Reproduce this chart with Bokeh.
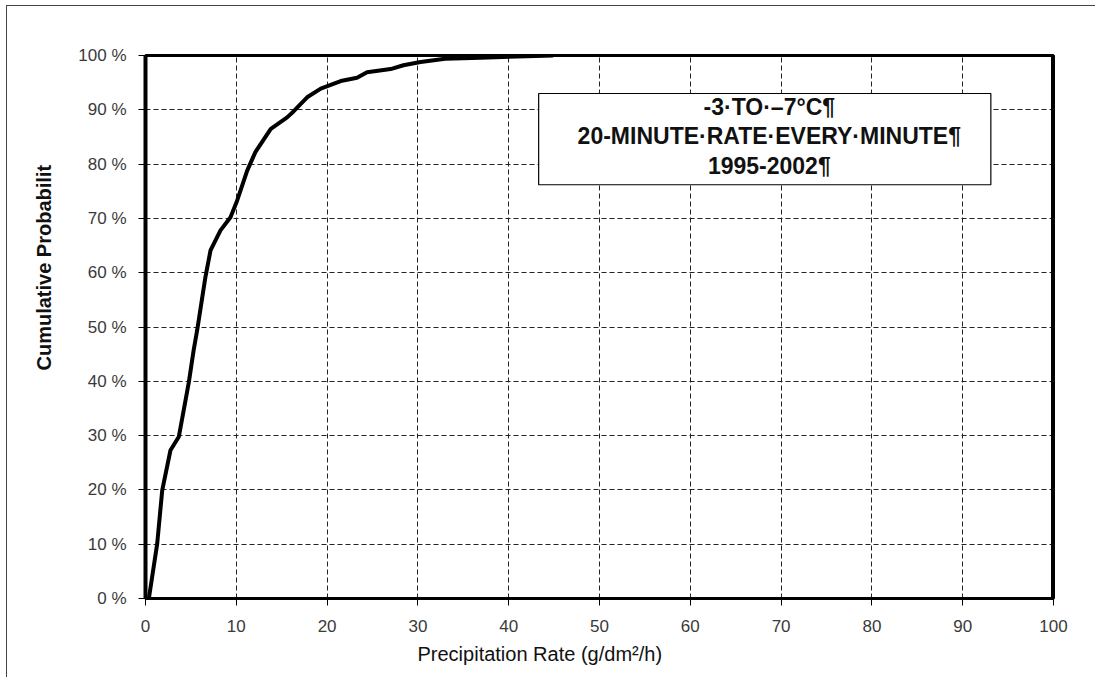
from bokeh.plotting import figure
from bokeh.models import FixedTicker, Span, ColumnDataSource, Title
from bokeh.core.properties import value
from bokeh.embed import file_html
from bokeh.resources import INLINE

# ---- data ----
rate = [0.37, 1.29, 1.84, 2.75, 3.67, 4.2, 4.77, 5.3, 5.7, 6.2, 6.6, 7.16, 8.26, 9.36,
        10.1, 11.2, 12.1, 13.8, 15.6, 16.3, 17.8, 19.3, 21.5, 23.3, 24.4, 27.0, 28.4,
        30.3, 33.0, 36.9, 44.9]
cum_prob = [0.0, 10.1, 19.9, 27.3, 29.8, 34.6, 39.8, 45.7, 49.5, 54.9, 59.2, 64.1, 67.8, 70.2,
            73.3, 78.8, 82.2, 86.5, 88.6, 89.7, 92.3, 93.9, 95.3, 95.9, 96.9, 97.5, 98.2,
            98.8, 99.4, 99.6, 100.0]
x_ticks = [0, 10, 20, 30, 40, 50, 60, 70, 80, 90, 100]
y_ticks = [0, 10, 20, 30, 40, 50, 60, 70, 80, 90, 100]
y_tick_labels = ["0 %", "10 %", "20 %", "30 %", "40 %", "50 %", "60 %", "70 %", "80 %", "90 %", "100 %"]
box_lines = ["-3·TO·–7°C¶", "20-MINUTE·RATE·EVERY·MINUTE¶", "1995-2002¶"]
x_title = "Precipitation Rate (g/dm²/h)"
y_title = "Cumulative Probabilit"

FONT = "Liberation Sans"

p = figure(width=1089, height=672, output_backend="svg", toolbar_location=None,
           x_range=(0, 100), y_range=(0, 100),
           min_border_left=138, min_border_right=43, min_border_top=49, min_border_bottom=80,
           styles={"margin-left": "6px", "margin-top": "5px",
                   "border-left": "1px solid #444444", "border-top": "1px solid #444444"})
p.background_fill_color = "white"
p.border_fill_color = "white"
p.outline_line_color = "black"
p.outline_line_width = 3

# grid
p.xgrid.ticker = FixedTicker(ticks=x_ticks[1:-1])
p.ygrid.ticker = FixedTicker(ticks=y_ticks[1:-1])
for g in (p.xgrid, p.ygrid):
    g.grid_line_color = "#222222"
    g.grid_line_dash = "5 3"
    g.grid_line_width = 1

# axes
p.xaxis.ticker = FixedTicker(ticks=x_ticks)
p.yaxis.ticker = FixedTicker(ticks=y_ticks)
p.yaxis.major_label_overrides = {t: s for t, s in zip(y_ticks, y_tick_labels)}
for ax, w in ((p.xaxis, 3), (p.yaxis, 4)):
    ax.axis_line_color = "black"
    ax.axis_line_width = w
    ax.major_tick_line_color = "black"
    ax.major_tick_line_width = 1
    ax.major_tick_out = 7
    ax.major_tick_in = 0
    ax.minor_tick_line_color = None
    ax.major_label_text_font = FONT
    ax.major_label_text_font_size = "17px"
    ax.major_label_text_color = "#3a3a3a"
p.xaxis.major_label_standoff = 14
p.yaxis.major_label_standoff = 12

# axis titles (positioned like the reference)
p.add_layout(Title(text=x_title, align="left", offset=272, standoff=12,
                   text_font=FONT, text_font_size="20px", text_font_style="normal",
                   text_color="#111111"), "below")
p.add_layout(Title(text=y_title, align="left", offset=228, standoff=42,
                   text_font=FONT, text_font_size="20px", text_font_style="bold",
                   text_color="#111111"), "left")

# thicker right border
p.add_layout(Span(location=100, dimension="height", line_color="black", line_width=5))

# curve
src = ColumnDataSource(dict(x=rate, y=cum_prob))
p.line("x", "y", source=src, line_color="black", line_width=4)

# text box
p.quad(left=43.3, right=93.1, top=93.0, bottom=76.2, fill_color="white",
       line_color="black", line_width=1.2)
p.text(x=[68.7] * 3, y=[90.6, 85.1, 79.6], text=box_lines, text_font=value(FONT),
       text_font_style="bold", text_font_size="23px", text_align="center",
       text_baseline="middle", text_color="#111111")

open("out.html", "w").write(file_html(p, INLINE))
